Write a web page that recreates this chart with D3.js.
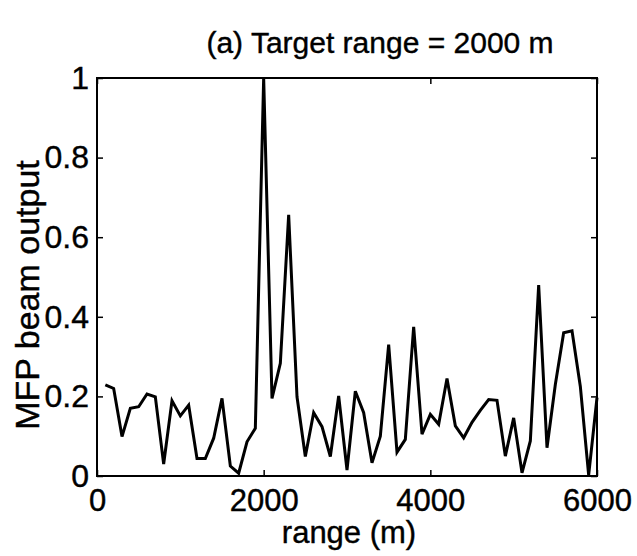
<!DOCTYPE html>
<html>
<head>
<meta charset="utf-8">
<script src="https://cdn.jsdelivr.net/npm/d3@7"></script>
<style>
  html, body { margin: 0; padding: 0; background: #fff; }
  svg { display: block; }
  text { font-family: "Liberation Sans", Arial, Helvetica, sans-serif; fill: #000; stroke: #000; stroke-width: 0.4px; }
</style>
</head>
<body>
<svg id="chart" width="637" height="556"></svg>
<script>
// Range samples (m), one every 100 m
const ranges = d3.range(100, 6001, 100);

// Normalised MFP beam output at each range
const beamOutput = [
  0.229, 0.220, 0.099, 0.170, 0.174, 0.206, 0.199, 0.030, 0.189, 0.151,
  0.178, 0.044, 0.044, 0.095, 0.195, 0.025, 0.007, 0.086, 0.120, 1.000,
  0.195, 0.283, 0.656, 0.199, 0.049, 0.159, 0.124, 0.049, 0.201, 0.015,
  0.213, 0.159, 0.033, 0.100, 0.330, 0.060, 0.092, 0.375, 0.105, 0.155,
  0.130, 0.245, 0.126, 0.096, 0.135, 0.165, 0.192, 0.190, 0.050, 0.146,
  0.008, 0.088, 0.480, 0.071, 0.230, 0.360, 0.365, 0.225, 0.002, 0.197
];

const xTicks = [0, 2000, 4000, 6000];
const yTicks = [0, 0.2, 0.4, 0.6, 0.8, 1];

const titleText = "(a) Target range = 2000 m";
const xLabel = "range (m)";
const yLabel = "MFP beam output";

const margin = { left: 97, right: 40, top: 78, bottom: 80 };
const W = 637, H = 556;
const innerW = W - margin.left - margin.right;   // 500
const innerH = H - margin.top - margin.bottom;   // 398

const svg = d3.select("#chart");
const g = svg.append("g").attr("transform", `translate(${margin.left},${margin.top})`);

const x = d3.scaleLinear().domain([0, 6000]).range([0, innerW]);
const y = d3.scaleLinear().domain([0, 1]).range([innerH, 0]);

const fmtY = d => (d === 0 || d === 1) ? String(d) : d3.format(".1f")(d);

// Axes with inward ticks on all four sides
const tickLen = 6;
const axisStyle = sel => {
  sel.select(".domain").remove();
  sel.selectAll(".tick line").attr("stroke", "#000").attr("stroke-width", 1.5);
};
const labelStyle = size => sel => sel.selectAll("text")
  .attr("font-size", size).attr("fill", "#000")
  .attr("font-family", "Liberation Sans, Arial, sans-serif");

g.append("g").attr("transform", `translate(0,${innerH})`)
  .call(d3.axisBottom(x).tickValues(xTicks).tickSize(-tickLen).tickPadding(13).tickFormat(d3.format("d")))
  .call(axisStyle)
  .call(labelStyle(31));

g.append("g")
  .call(d3.axisTop(x).tickValues(xTicks).tickSize(-tickLen).tickFormat(""))
  .call(axisStyle);

g.append("g")
  .call(d3.axisLeft(y).tickValues(yTicks).tickSize(-tickLen).tickPadding(8).tickFormat(fmtY))
  .call(axisStyle)
  .call(labelStyle(32));

g.append("g").attr("transform", `translate(${innerW},0)`)
  .call(d3.axisRight(y).tickValues(yTicks).tickSize(-tickLen).tickFormat(""))
  .call(axisStyle);

// Frame
g.append("rect")
  .attr("x", 0).attr("y", 0).attr("width", innerW).attr("height", innerH)
  .attr("fill", "none").attr("stroke", "#000").attr("stroke-width", 2);

// Beam output curve
const pts = ranges.map((r, i) => [r, beamOutput[i]]);
g.append("path")
  .datum(pts)
  .attr("fill", "none")
  .attr("stroke", "#000")
  .attr("stroke-width", 3)
  .attr("stroke-linejoin", "miter")
  .attr("d", d3.line().x(d => x(d[0])).y(d => y(d[1])));

// Title and axis labels
svg.append("text")
  .attr("x", 380).attr("y", 53)
  .attr("text-anchor", "middle").attr("font-size", 30)
  .text(titleText);

svg.append("text")
  .attr("x", margin.left + innerW / 2 + 2).attr("y", 543)
  .attr("text-anchor", "middle").attr("font-size", 31)
  .text(xLabel);

svg.append("text")
  .attr("transform", `translate(39,295) rotate(-90)`)
  .attr("text-anchor", "middle").attr("font-size", 34)
  .text(yLabel);
</script>
</body>
</html>
